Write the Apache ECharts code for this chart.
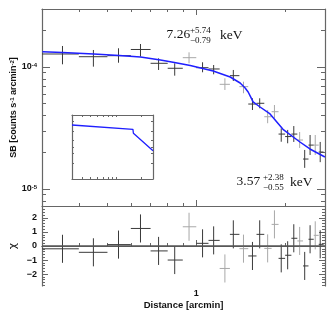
<!DOCTYPE html>
<html><head><meta charset="utf-8">
<script src="https://cdn.jsdelivr.net/npm/echarts@6/dist/echarts.min.js"></script>
<style>html,body{margin:0;padding:0;background:#fff}#c{width:332px;height:315px}</style>
</head><body><div id="c"></div>
<script>
// ---- data ----
const binLo  = [0.30,0.40,0.50,0.60,0.70,0.80,0.90,1.00,1.10,1.20,1.30,1.40,1.50,1.60,1.70,1.80,1.90,2.00,2.10,2.20,2.30,2.40,2.50,2.60];
const binHi  = [0.40,0.50,0.60,0.70,0.80,0.90,1.00,1.10,1.20,1.30,1.40,1.50,1.60,1.70,1.80,1.90,2.00,2.10,2.20,2.30,2.40,2.50,2.60,2.70];
const radius = [0.352,0.448,0.545,0.647,0.745,0.845,0.945,1.05,1.145,1.25,1.335,1.445,1.55,1.64,1.745,1.84,1.94,2.04,2.14,2.24,2.33,2.43,2.53,2.63];
const sb     = [1.278e-4,1.214e-4,1.238e-4,1.391e-4,1.072e-4,0.976e-4,1.192e-4,0.987e-4,0.963e-4,0.721e-4,0.849e-4,0.690e-4,0.497e-4,0.504e-4,0.391e-4,0.430e-4,0.282e-4,0.269e-4,0.282e-4,0.252e-4,0.176e-4,0.229e-4,0.229e-4,0.201e-4];
const sbLo   = [1.052e-4,1.006e-4,1.084e-4,1.219e-4,0.945e-4,0.849e-4,1.072e-4,0.905e-4,0.871e-4,0.648e-4,0.768e-4,0.609e-4,0.444e-4,0.459e-4,0.346e-4,0.380e-4,0.244e-4,0.237e-4,0.243e-4,0.217e-4,0.149e-4,0.190e-4,0.190e-4,0.166e-4];
const sbHi   = [1.486e-4,1.378e-4,1.423e-4,1.543e-4,1.178e-4,1.072e-4,1.319e-4,1.093e-4,1.038e-4,0.808e-4,0.945e-4,0.758e-4,0.554e-4,0.554e-4,0.444e-4,0.488e-4,0.314e-4,0.305e-4,0.328e-4,0.293e-4,0.209e-4,0.277e-4,0.277e-4,0.243e-4];
const chi    = [-0.2,-0.45,0.1,1.25,-0.35,-1.0,1.37,0.19,0.4,-1.6,0.83,-0.19,-0.71,0.83,-0.17,1.54,-0.88,-0.66,0.55,0.36,-1.42,0.48,0.76,0.12];
const chiErr = [1,1,1,1,1,1,1,1,1,1,1,1,1,1,1,1,1,1,1,1,1,1,1,1];
const pointGroup = [0,0,0,0,0,0,1,0,0,1,0,1,0,0,1,1,0,0,0,1,0,0,1,0]; // 0 dark, 1 light grey
const modelR  = [0.301,0.352,0.449,0.548,0.647,0.756,0.843,0.954,1.141,1.303,1.408,1.464,1.499,1.522,1.558,1.645,1.778,1.967,2.245,2.427,2.728];
const modelSB = [1.335e-4,1.315e-4,1.278e-4,1.243e-4,1.208e-4,1.141e-4,1.088e-4,1.029e-4,0.927e-4,0.828e-4,0.739e-4,0.673e-4,0.624e-4,0.579e-4,0.517e-4,0.470e-4,0.412e-4,0.3085e-4,0.2428e-4,0.2128e-4,0.1829e-4];
const insetR  = [0.3,1.58,1.60,2.73];
const insetV  = [1.54e-2,1.13e-2,8.48e-3,2.42e-3];
const xMinorTicks = [0.4,0.5,0.6,0.7,0.8,0.9,2];
const xMajorTicks = [1];
const yMinorTicks = [8e-6,9e-6,2e-5,3e-5,4e-5,5e-5,6e-5,7e-5,8e-5,9e-5,2e-4];
const yMajorTicks = [1e-5,1e-4];
const chiMajorTicks = [-2,-1,0,1,2];
const chiMinorTicks = [-2.8,-2.6,-2.4,-2.2,-1.8,-1.6,-1.4,-1.2,-0.8,-0.6,-0.4,-0.2,0.2,0.4,0.6,0.8,1.2,1.4,1.6,1.8,2.2,2.4,2.6,2.8];
const xLabelTicks = [1];

// ---- styling ----
const AX = '#666';
const LBL = {fontFamily:'Liberation Sans', fontWeight:'bold', fontSize:9, color:'#111'};
const X_MIN = 0.3, X_MAX = 2.73;

function ax(o){
  const a = {
    gridIndex:o.grid, type:o.type||'log', position:o.pos,
    min:o.min, max:o.max, logBase:10,
    axisLine:{show:!!o.line, lineStyle:{color:AX,width:1.2}},
    axisTick:{show:!!o.ticks, inside:true, length:o.len||3, customValues:o.ticks, lineStyle:{color:AX,width:1}},
    axisLabel:{show:!!o.labels},
    splitLine:{show:false}, minorTick:{show:false}
  };
  if(o.labels){ a.axisLabel = Object.assign({show:true, customValues:o.labels, margin:o.margin||5, formatter:o.fmt}, LBL, o.lblStyle||{}); }
  if(o.name){ a.name=o.name; a.nameLocation='middle'; a.nameGap=o.nameGap; a.nameTextStyle=o.nameStyle; if(o.nameRotate!==undefined) a.nameRotate=o.nameRotate; }
  return a;
}

const Y0MIN = 7.256e-6, Y0MAX = 2.987e-4;
const xAxis = [
  ax({grid:0,pos:'bottom',min:X_MIN,max:X_MAX,line:true,ticks:xMinorTicks,len:3}),   //0
  ax({grid:0,pos:'bottom',min:X_MIN,max:X_MAX,ticks:xMajorTicks,len:6}),              //1
  ax({grid:0,pos:'top',min:X_MIN,max:X_MAX,line:true,ticks:xMinorTicks,len:3}),      //2
  ax({grid:0,pos:'top',min:X_MIN,max:X_MAX,ticks:xMajorTicks,len:6}),                 //3
  ax({grid:1,pos:'bottom',min:X_MIN,max:X_MAX,line:true,ticks:xMinorTicks,len:3,
      name:'Distance [arcmin]',nameGap:14,nameStyle:Object.assign({},LBL,{fontSize:9.5})}), //4
  ax({grid:1,pos:'bottom',min:X_MIN,max:X_MAX,ticks:xMajorTicks,len:6,labels:xLabelTicks,margin:3,fmt:v=>'1'}), //5
  ax({grid:1,pos:'top',min:X_MIN,max:X_MAX,line:true}),                                 //6
  ax({grid:2,pos:'bottom',min:X_MIN,max:X_MAX,line:true,ticks:[0.4,0.5,0.6,0.7,0.8,0.9,1,2],len:2}), //7
  ax({grid:2,pos:'top',min:X_MIN,max:X_MAX,line:true,ticks:[0.4,0.5,0.6,0.7,0.8,0.9,1,2],len:2})     //8
];
const yAxis = [
  ax({grid:0,pos:'left',min:Y0MIN,max:Y0MAX,line:true,ticks:yMinorTicks,len:4,
      name:'{a|SB [counts s}{s|-1}{a| arcmin}{s|-2}{a|]}',nameGap:24,nameRotate:90,
      nameStyle:{rich:{a:Object.assign({},LBL,{fontSize:9}),s:Object.assign({},LBL,{fontSize:6,verticalAlign:'top'})}}}), //0
  ax({grid:0,pos:'left',min:Y0MIN,max:Y0MAX,ticks:yMajorTicks,len:8,labels:yMajorTicks,margin:5,
      fmt:v=>(v<3e-5?'{b|10}{s|-5}':'{b|10}{s|-4}'),
      lblStyle:{rich:{b:Object.assign({},LBL,{fontSize:9}),s:Object.assign({},LBL,{fontSize:6,verticalAlign:'top'})}}}), //1
  ax({grid:0,pos:'right',min:Y0MIN,max:Y0MAX,line:true,ticks:yMinorTicks,len:4}),    //2
  ax({grid:0,pos:'right',min:Y0MIN,max:Y0MAX,ticks:yMajorTicks,len:8}),              //3
  ax({grid:1,type:'value',pos:'left',min:-2.85,max:2.85,line:true,ticks:chiMinorTicks,len:3,
      name:'χ',nameGap:23,nameRotate:90,nameStyle:{fontFamily:'DejaVu Sans',fontSize:11,color:'#111'}}), //4
  ax({grid:1,type:'value',pos:'left',min:-2.85,max:2.85,ticks:chiMajorTicks,len:6,labels:chiMajorTicks,margin:5,fmt:v=>String(v).replace('-','−')}), //5
  ax({grid:1,type:'value',pos:'right',min:-2.85,max:2.85,line:true,ticks:chiMinorTicks,len:3}), //6
  ax({grid:1,type:'value',pos:'right',min:-2.85,max:2.85,ticks:chiMajorTicks,len:6}),           //7
  ax({grid:2,pos:'left',min:Math.pow(10,-3.5),max:Math.pow(10,-1.5),line:true,ticks:[1e-3,2e-3,3e-3,5e-3,1e-2,2e-2],len:2}), //8
  ax({grid:2,pos:'right',min:Math.pow(10,-3.5),max:Math.pow(10,-1.5),line:true,ticks:[1e-3,2e-3,3e-3,5e-3,1e-2,2e-2],len:2})  //9
];

const COLORS = ['#3a3a3a','#a8a8a8'];
function crossRender(valIdx){
  return function(params, api){
    const r = api.value(0), v = api.value(1), rl = api.value(2), rh = api.value(3), vl = api.value(4), vh = api.value(5);
    const col = COLORS[api.value(6)];
    const pL = api.coord([rl, v]), pR = api.coord([rh, v]);
    const pB = api.coord([r, vl]), pT = api.coord([r, vh]);
    const st = {stroke:col, lineWidth:1};
    return {type:'group', children:[
      {type:'line', shape:{x1:pL[0],y1:pL[1],x2:pR[0],y2:pR[1]}, style:st},
      {type:'line', shape:{x1:pB[0],y1:pB[1],x2:pT[0],y2:pT[1]}, style:st}
    ]};
  };
}
const sbData = radius.map((r,i)=>[r, sb[i], binLo[i], binHi[i], sbLo[i], sbHi[i], pointGroup[i]]);
const chiData = radius.map((r,i)=>[r, chi[i], binLo[i], binHi[i], chi[i]-chiErr[i], chi[i]+chiErr[i], pointGroup[i]]);

const SERIF = '"Liberation Serif", "DejaVu Serif", serif';
function txt(x,y,t,size){ return {type:'text', x:x, y:y, style:{text:t, fontFamily:SERIF, fontSize:size, fill:'#111', verticalAlign:'middle', align:'left'}}; }

const option = {
  animation:false,
  backgroundColor:'#fff',
  grid:[
    {left:42, top:9, width:283, height:197},
    {left:42, top:206, width:283, height:80},
    {left:72, top:115, width:81, height:64}
  ],
  xAxis:xAxis, yAxis:yAxis,
  series:[
    {type:'custom', xAxisIndex:0, yAxisIndex:0, data:sbData, encode:{x:0,y:1}, renderItem:crossRender(), clip:true, z:2},
    {type:'line', xAxisIndex:0, yAxisIndex:0, data:modelR.map((r,i)=>[r, modelSB[i]]), symbol:'none', smooth:false,
      lineStyle:{color:'#1f1fff', width:1.5}, z:3},
    {type:'custom', xAxisIndex:4, yAxisIndex:4, data:chiData, encode:{x:0,y:1}, renderItem:crossRender(), clip:true, z:2,
      markLine:{silent:true, symbol:'none', label:{show:false}, lineStyle:{color:'#555', width:1.5, type:'solid'}, data:[{yAxis:0}]}},
    {type:'line', xAxisIndex:7, yAxisIndex:8, data:insetR.map((r,i)=>[r, insetV[i]]), symbol:'none',
      lineStyle:{color:'#1f1fff', width:1.3}}
  ],
  graphic:[
    txt(166.5,34,'7.26',13.5), txt(190,30.5,'+5.74',9), txt(190,40.5,'−0.79',9), txt(220,35.5,'keV',13.5),
    txt(236.5,181,'3.57',13.5), txt(263,177.5,'+2.38',9), txt(263,188,'−0.55',9), txt(290,182.5,'keV',13.5)
  ]
};
const chart = echarts.init(document.getElementById('c'), null, {renderer:'canvas'});
chart.setOption(option);
</script></body></html>
